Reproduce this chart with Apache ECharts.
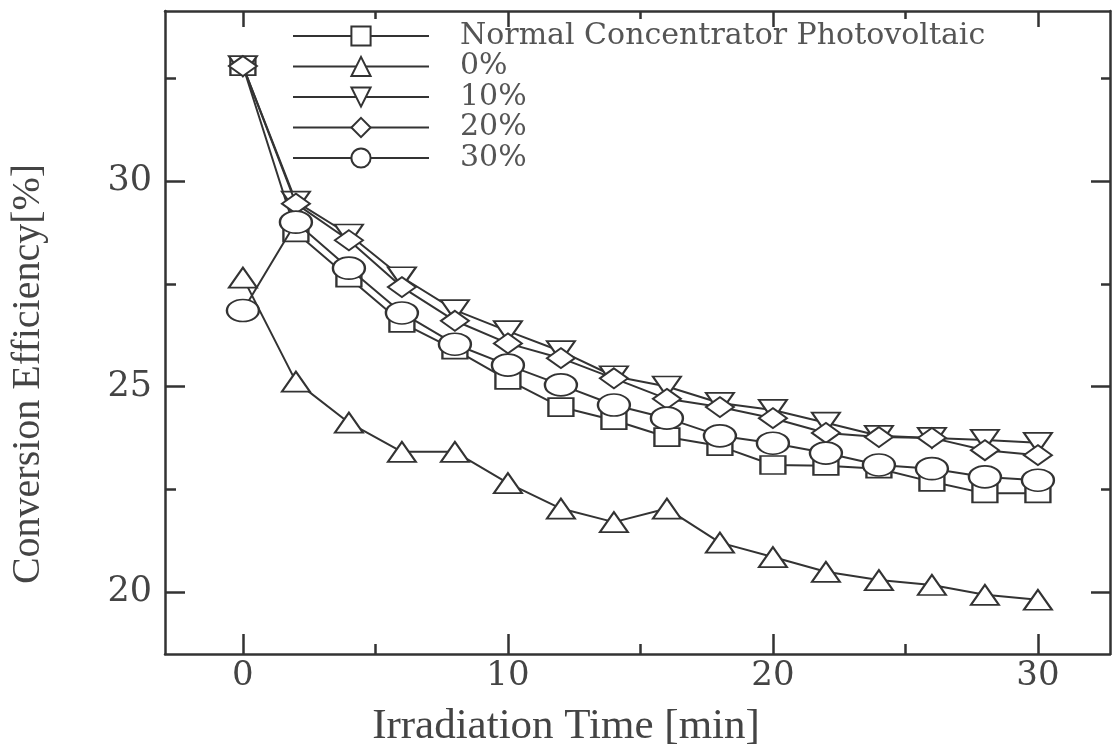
<!DOCTYPE html>
<html>
<head>
<meta charset="utf-8">
<style>
  html, body { margin: 0; padding: 0; background: #fff; }
  #chart { width: 1112px; height: 749px; }
</style>
<script src="https://cdn.jsdelivr.net/npm/echarts@6/dist/echarts.min.js"></script>
</head>
<body>
<div id="chart"></div>
<script>
// ---- data ----
const times = [0, 2, 4, 6, 8, 10, 12, 14, 16, 18, 20, 22, 24, 26, 28, 30];
const normalCPV = [32.8, 28.75, 27.65, 26.55, 25.9, 25.16, 24.5, 24.18, 23.77, 23.55, 23.09, 23.07, 23.0, 22.68, 22.4, 22.4];
const pct0  = [27.65, 25.12, 24.12, 23.41, 23.41, 22.65, 22.03, 21.7, 22.03, 21.2, 20.85, 20.49, 20.29, 20.17, 19.93, 19.81];
const pct10 = [32.8, 29.5, 28.7, 27.66, 26.86, 26.35, 25.86, 25.25, 25.0, 24.6, 24.43, 24.12, 23.8, 23.75, 23.7, 23.63];
const pct20 = [32.8, 29.45, 28.56, 27.42, 26.6, 26.05, 25.69, 25.2, 24.7, 24.5, 24.23, 23.87, 23.77, 23.75, 23.45, 23.33];
const pct30 = [26.85, 29.0, 27.88, 26.79, 26.03, 25.52, 25.04, 24.55, 24.23, 23.8, 23.62, 23.38, 23.09, 23.0, 22.8, 22.72];

const seriesNames = ['Normal Concentrator Photovoltaic', '0%', '10%', '20%', '30%'];
const xMajorTicks = [0, 10, 20, 30];
const xMinorTicks = [5, 15, 25];
const yMajorTicks = [20, 25, 30];
const yMinorTicks = [22.5, 27.5, 32.5];
const xTitle = 'Irradiation Time [min]';
const yTitle = 'Conversion Efficiency[%]';

// ---- styling ----
const INK = '#333';
const XMIN = -2.94, XMAX = 32.72, YMIN = 18.49, YMAX = 34.14;

function pairs(vals) { return times.map((t, i) => [t, vals[i]]); }

function xAx(pos, ticks, len, withLine, withLabels) {
  return {
    type: 'value', position: pos, min: XMIN, max: XMAX,
    axisLine: { show: withLine, onZero: false, lineStyle: { color: INK, width: 2.5 } },
    axisTick: { show: true, inside: true, length: len, customValues: ticks, lineStyle: { color: INK, width: 2.5 } },
    axisLabel: withLabels ? { show: true, customValues: ticks, margin: 5,
      fontFamily: 'DejaVu Serif', fontSize: 34, color: '#444' } : { show: false },
    splitLine: { show: false }
  };
}
function yAx(pos, ticks, len, withLine, withLabels) {
  return {
    type: 'value', position: pos, min: YMIN, max: YMAX,
    axisLine: { show: withLine, onZero: false, lineStyle: { color: INK, width: 2.5 } },
    axisTick: { show: true, inside: true, length: len, customValues: ticks, lineStyle: { color: INK, width: 2.5 } },
    axisLabel: withLabels ? { show: true, customValues: ticks, margin: 13,
      fontFamily: 'DejaVu Serif', fontSize: 35, color: '#444' } : { show: false },
    splitLine: { show: false }
  };
}

const symbols = [
  { symbol: 'rect', size: [25, 18], rotate: 0 },
  { symbol: 'triangle', size: [28, 20], rotate: 0 },
  { symbol: 'triangle', size: [28, 20], rotate: 180 },
  { symbol: 'diamond', size: [28, 20], rotate: 0 },
  { symbol: 'circle', size: [32, 22], rotate: 0 }
];
const values = [normalCPV, pct0, pct10, pct20, pct30];

const chart = echarts.init(document.getElementById('chart'));
chart.setOption({
  animation: false,
  backgroundColor: '#fff',
  grid: { left: 165, right: 2, top: 11, bottom: 95, containLabel: false },
  xAxis: [
    xAx('bottom', xMajorTicks, 20, true, true),
    xAx('bottom', xMinorTicks, 10, false, false),
    xAx('top', xMajorTicks, 16, true, false),
    xAx('top', xMinorTicks, 8, false, false)
  ],
  yAxis: [
    yAx('left', yMajorTicks, 20, true, true),
    yAx('left', yMinorTicks, 11, false, false),
    yAx('right', yMajorTicks, 19, true, false),
    yAx('right', yMinorTicks, 9, false, false)
  ],
  legend: {
    orient: 'vertical', left: 287, top: 16,
    itemWidth: 136, itemHeight: 24, itemGap: 0.5,
    data: seriesNames,
    textStyle: { fontFamily: 'DejaVu Serif', fontSize: 30, lineHeight: 24, color: '#555', padding: [0, 0, 0, 26] }
  },
  series: seriesNames.map((name, i) => ({
    name: name, type: 'line', xAxisIndex: 0, yAxisIndex: 0,
    data: pairs(values[i]),
    symbol: symbols[i].symbol, symbolSize: symbols[i].size, symbolRotate: symbols[i].rotate,
    showAllSymbol: true,
    lineStyle: { color: INK, width: 2 },
    itemStyle: { color: '#fff', borderColor: INK, borderWidth: 2 },
    emphasis: { disabled: true },
    z: 2 + i
  })),
  graphic: [
    { type: 'text', x: 566, y: 727,
      style: { text: xTitle, font: '43px "Liberation Serif"', fill: '#444', align: 'center', verticalAlign: 'middle' } },
    { type: 'text', x: 28, y: 374, rotation: Math.PI / 2,
      style: { text: yTitle, font: '40px "Liberation Serif"', fill: '#444', align: 'center', verticalAlign: 'middle' } }
  ]
});
</script>
</body>
</html>
